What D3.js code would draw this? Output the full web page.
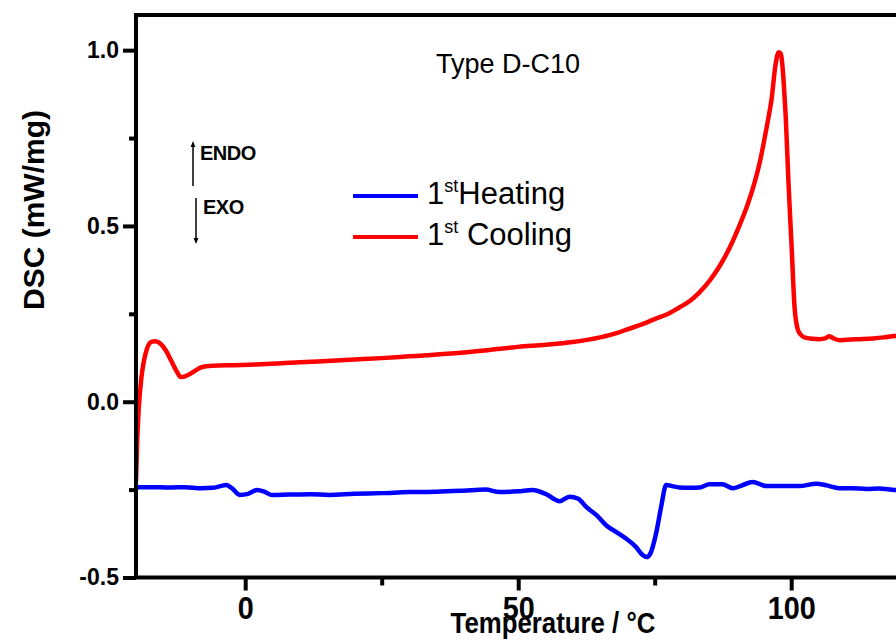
<!DOCTYPE html>
<html>
<head>
<meta charset="utf-8">
<script src="https://cdn.jsdelivr.net/npm/d3@7"></script>
<style>
  html, body { margin: 0; padding: 0; background: #fff; }
  svg { display: block; font-family: "Liberation Sans", Arial, sans-serif; }
</style>
</head>
<body>
<svg id="chart" width="896" height="643"></svg>
<script>
// ---- Data ----
const coolingT = [-20, -19.8, -19.5, -19, -18.5, -18, -17.2, -16.5, -15.5, -14.5, -13.5, -12.5, -11.8, -11, -10, -9, -8, -6, -2, 2, 6, 10, 15, 20, 25, 30, 34, 40, 45, 50, 55, 60, 65, 68, 70, 73, 75, 77.5, 79.5, 81.5, 83.2, 85, 86.9, 88.7, 90.5, 92, 93.3, 94.3, 95.1, 95.8, 96.4, 97.1, 97.7, 98.1, 98.4, 98.7, 99, 99.5, 100.1, 100.6, 101.2, 101.8, 102.4, 104, 105.2, 106.2, 107, 107.8, 109, 111, 112.5, 115, 117, 119, 121];
const coolingV = [-0.225, -0.12, -0.02, 0.07, 0.12, 0.15, 0.17, 0.172, 0.165, 0.145, 0.115, 0.085, 0.07, 0.072, 0.08, 0.09, 0.098, 0.102, 0.104, 0.106, 0.109, 0.112, 0.116, 0.12, 0.124, 0.129, 0.133, 0.14, 0.148, 0.156, 0.162, 0.17, 0.183, 0.195, 0.206, 0.222, 0.235, 0.25, 0.268, 0.287, 0.311, 0.343, 0.386, 0.437, 0.5, 0.56, 0.624, 0.685, 0.747, 0.805, 0.86, 0.955, 0.994, 0.99, 0.955, 0.89, 0.81, 0.624, 0.434, 0.272, 0.206, 0.19, 0.183, 0.179, 0.178, 0.18, 0.186, 0.18, 0.175, 0.177, 0.178, 0.18, 0.183, 0.187, 0.188];

const heatingT = [-20, -17, -14, -11, -8, -6, -4.5, -3.5, -2.5, -1, 0.5, 2.2, 3.5, 4.8, 8, 12, 15.4, 20, 25, 30, 35, 40, 44, 46.6, 50, 52.6, 55, 57.6, 59.4, 61, 62.5, 64.5, 66.2, 68, 69.8, 71.5, 72.8, 73.5, 74.2, 75.3, 76.2, 77.1, 78.2, 79.5, 81.5, 83.2, 85, 87.4, 89.3, 91, 92.9, 95.5, 98, 101.5, 104.6, 106.5, 108.8, 111, 113.8, 116, 119, 121];
const heatingV = [-0.243, -0.243, -0.244, -0.243, -0.246, -0.245, -0.24, -0.237, -0.245, -0.265, -0.262, -0.251, -0.256, -0.265, -0.264, -0.263, -0.265, -0.262, -0.26, -0.257, -0.256, -0.253, -0.25, -0.257, -0.255, -0.251, -0.262, -0.283, -0.27, -0.276, -0.3, -0.325, -0.353, -0.371, -0.39, -0.412, -0.436, -0.442, -0.432, -0.371, -0.297, -0.237, -0.24, -0.244, -0.245, -0.244, -0.235, -0.235, -0.246, -0.238, -0.228, -0.24, -0.24, -0.24, -0.233, -0.238, -0.246, -0.246, -0.248, -0.247, -0.251, -0.252];

const xTicks = [0, 50, 100];
const xMinorTicks = [25, 75];
const yTicks = [-0.5, 0.0, 0.5, 1.0];
const yMinorTicks = [-0.25, 0.25, 0.75];
const yTickLabels = ["-0.5", "0.0", "0.5", "1.0"];

const seriesNames = ["Heating", "Cooling"];
const seriesColors = ["#0000ff", "#ff0000"];

// ---- Layout ----
const svg = d3.select("#chart");
const padL = 136, padT = 15, padB = 577.5;
const x = d3.scaleLinear().domain([-20, 130]).range([padL, padL + 150 * 5.46]);
const y = d3.scaleLinear().domain([-0.5, 1.1]).range([padB, padT]);

const defs = svg.append("defs");
defs.append("clipPath").attr("id", "clip")
  .append("rect").attr("x", padL).attr("y", padT).attr("width", 1000).attr("height", padB - padT);

// lines
const line = d3.line().x(d => x(d[0])).y(d => y(d[1])).curve(d3.curveMonotoneX);
const heating = heatingT.map((t, i) => [t, heatingV[i]]);
const cooling = coolingT.map((t, i) => [t, coolingV[i]]);

const g = svg.append("g").attr("clip-path", "url(#clip)");
g.append("path").datum(heating).attr("d", line)
  .attr("fill", "none").attr("stroke", seriesColors[0]).attr("stroke-width", 4.5).attr("stroke-linejoin", "round");
g.append("path").datum(cooling).attr("d", line)
  .attr("fill", "none").attr("stroke", seriesColors[1]).attr("stroke-width", 4.5).attr("stroke-linejoin", "round");

// axes
const yAxis = d3.axisLeft(y).tickValues(yTicks).tickFormat((d, i) => yTickLabels[i])
  .tickSize(13).tickSizeOuter(0).tickPadding(4);
const yAxisMinor = d3.axisLeft(y).tickValues(yMinorTicks).tickFormat("").tickSize(7).tickSizeOuter(0);
const xAxis = d3.axisBottom(x).tickValues(xTicks).tickFormat(d3.format("d"))
  .tickSize(13).tickSizeOuter(0).tickPadding(6);
const xAxisMinor = d3.axisBottom(x).tickValues(xMinorTicks).tickFormat("").tickSize(8).tickSizeOuter(0);

const gyMinor = svg.append("g").attr("transform", `translate(${padL},0)`).call(yAxisMinor);
const gy = svg.append("g").attr("transform", `translate(${padL},0)`).call(yAxis);
const gxMinor = svg.append("g").attr("transform", `translate(0,${padB})`).call(xAxisMinor);
const gx = svg.append("g").attr("transform", `translate(0,${padB})`).call(xAxis);

[gy, gyMinor, gx, gxMinor].forEach(a => {
  a.select(".domain").remove();
  a.selectAll(".tick line").attr("stroke", "#000").attr("stroke-width", 4);
});
gy.selectAll(".tick text").attr("font-size", 23).attr("font-weight", "bold")
  .attr("font-family", "Liberation Sans, Arial, sans-serif").attr("fill", "#000");
gx.selectAll(".tick text").attr("font-size", 32).attr("font-weight", "bold")
  .attr("font-family", "Liberation Sans, Arial, sans-serif").attr("fill", "#000")
  .attr("transform", "scale(0.9,1)");

// frame (left, top, bottom)
svg.append("path")
  .attr("d", `M${padL},${padB} L${padL},${padT} L896,${padT} M${padL - 2},${padB} L896,${padB}`)
  .attr("fill", "none").attr("stroke", "#000").attr("stroke-width", 4);

// axis titles
svg.append("text").attr("x", 553 / 0.86).attr("y", 633)
  .attr("transform", "scale(0.86,1)")
  .attr("text-anchor", "middle").attr("font-size", 30).attr("font-weight", "bold")
  .text("Temperature / °C");
svg.append("text")
  .attr("transform", "translate(44,210) rotate(-90)")
  .attr("text-anchor", "middle").attr("font-size", 30).attr("font-weight", "bold")
  .text("DSC (mW/mg)");

// sample label
svg.append("text").attr("x", 436).attr("y", 73).attr("font-size", 27).text("Type D-C10");

// ENDO / EXO annotation
defs.append("marker").attr("id", "ah").attr("viewBox", "0 0 10 10")
  .attr("refX", 5).attr("refY", 5).attr("markerWidth", 4).attr("markerHeight", 6)
  .attr("orient", "auto-start-reverse")
  .append("path").attr("d", "M0,1 L10,5 L0,9 Z").attr("fill", "#000");
svg.append("line").attr("x1", 193).attr("y1", 186).attr("x2", 193).attr("y2", 144)
  .attr("stroke", "#000").attr("stroke-width", 1.5).attr("marker-end", "url(#ah)");
svg.append("line").attr("x1", 196).attr("y1", 198).attr("x2", 196).attr("y2", 241)
  .attr("stroke", "#000").attr("stroke-width", 1.5).attr("marker-end", "url(#ah)");
svg.append("text").attr("x", 200).attr("y", 160).attr("font-size", 20).attr("font-weight", "bold")
  .attr("letter-spacing", -0.5).text("ENDO");
svg.append("text").attr("x", 203).attr("y", 214).attr("font-size", 20).attr("font-weight", "bold")
  .attr("letter-spacing", -0.5).text("EXO");

// legend
const legendY = [196, 237];
const legendBase = [204, 245];
seriesNames.forEach((name, i) => {
  svg.append("line").attr("x1", 353).attr("x2", 418).attr("y1", legendY[i]).attr("y2", legendY[i])
    .attr("stroke", seriesColors[i]).attr("stroke-width", 4);
  const t = svg.append("text").attr("x", 427).attr("y", legendBase[i]).attr("font-size", 31);
  t.append("tspan").text("1");
  t.append("tspan").attr("font-size", 18).attr("dy", -12).text("st");
  t.append("tspan").attr("dy", 12).text(i === 0 ? name : "\u00a0" + name);
});
</script>
</body>
</html>
